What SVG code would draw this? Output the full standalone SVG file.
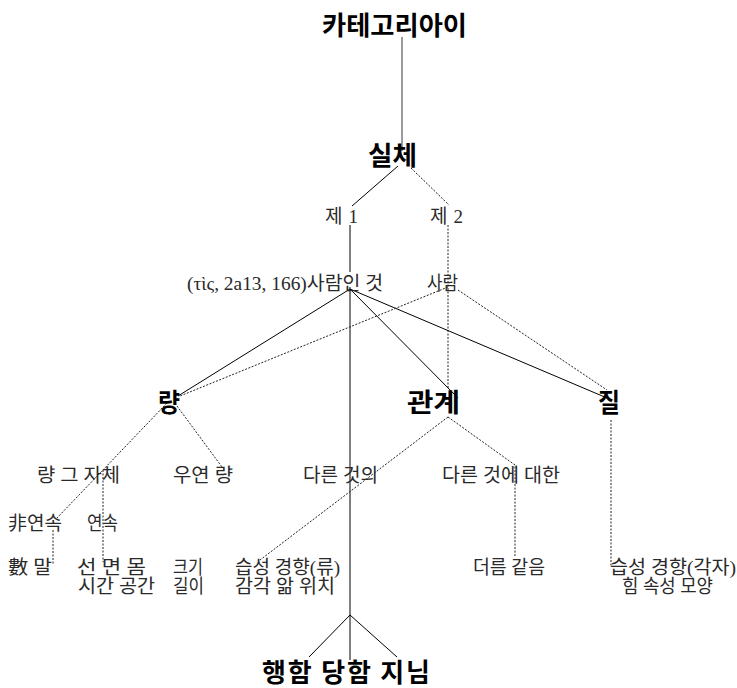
<svg xmlns="http://www.w3.org/2000/svg" width="737" height="688" viewBox="0 0 737 688">
<style>
.big{font-family:"Noto Sans CJK KR","Noto Sans",sans-serif;font-weight:bold;font-size:26px;fill:#000}
.sm{font-family:"Liberation Serif","Noto Sans CJK KR",serif;font-size:19px;fill:#2a2a2a}
.s{stroke:#000;stroke-width:1;fill:none}
.d{stroke:#222;stroke-width:1;fill:none;stroke-dasharray:2 1.5}
</style>
<rect width="737" height="688" fill="#fff"/>
<g id="connectors">
<line x1="402" y1="37" x2="402" y2="151" stroke="#7a7a7a" stroke-width="1.5"/>
<line class="s" x1="398" y1="166" x2="352" y2="206"/>
<line class="d" x1="411" y1="168" x2="449" y2="205"/>
<line class="s" x1="350" y1="225" x2="350" y2="272"/>
<line class="d" x1="448" y1="225" x2="448" y2="388"/>
<line class="s" x1="350" y1="287" x2="350" y2="660"/>
<line class="s" x1="350" y1="289" x2="178" y2="396"/>
<line class="s" x1="350" y1="289" x2="458" y2="398"/>
<line class="s" x1="350" y1="289" x2="607" y2="398"/>
<line class="d" x1="448" y1="287" x2="180" y2="396"/>
<line class="d" x1="458" y1="290" x2="607" y2="390"/>
<line class="d" x1="167" y1="403" x2="57" y2="518"/>
<line class="d" x1="177" y1="406" x2="222" y2="467"/>
<line class="d" x1="103" y1="470" x2="103" y2="562"/>
<line class="d" x1="53" y1="530" x2="53" y2="565"/>
<line class="d" x1="448" y1="417" x2="260" y2="560"/>
<polyline class="d" points="448,417 515,465 515,556"/>
<line class="d" x1="611" y1="420" x2="611" y2="566"/>
<line class="s" x1="350" y1="615" x2="309" y2="657"/>
<line class="s" x1="350" y1="615" x2="397" y2="657"/>
</g>
<g id="n-kategoriai"><text class="big" x="322" y="35" textLength="145" lengthAdjust="spacingAndGlyphs">카테고리아이</text></g>
<g id="n-silche"><text class="big" x="368" y="165" textLength="49" lengthAdjust="spacingAndGlyphs">실체</text></g>
<g id="n-je1"><text class="sm" x="325" y="223" textLength="33">제 1</text></g>
<g id="n-je2"><text class="sm" x="430" y="223" textLength="33">제 2</text></g>
<g id="n-tis"><text class="sm" x="187" y="290" textLength="196" lengthAdjust="spacingAndGlyphs">(τὶς, 2a13, 166)사람인 것</text></g>
<g id="n-saram"><text class="sm" x="427" y="290" textLength="31" lengthAdjust="spacingAndGlyphs">사람</text></g>
<g id="n-ryang"><text class="big" x="158" y="412" textLength="22" lengthAdjust="spacingAndGlyphs">량</text></g>
<g id="n-gwangye"><text class="big" x="407" y="412" textLength="53" lengthAdjust="spacingAndGlyphs">관계</text></g>
<g id="n-jil"><text class="big" x="598" y="412" textLength="22" lengthAdjust="spacingAndGlyphs">질</text></g>
<g id="n-ryang-self"><text class="sm" x="37" y="482" textLength="83" lengthAdjust="spacingAndGlyphs">량 그 자체</text></g>
<g id="n-uyeon"><text class="sm" x="173" y="482" textLength="60" lengthAdjust="spacingAndGlyphs">우연 량</text></g>
<g id="n-dareun-ui"><text class="sm" x="303" y="482" textLength="75" lengthAdjust="spacingAndGlyphs">다른 것의</text></g>
<g id="n-dareun-e"><text class="sm" x="442" y="482" textLength="118" lengthAdjust="spacingAndGlyphs">다른 것에 대한</text></g>
<g id="n-biyeonsok"><text class="sm" x="8" y="530" textLength="54" lengthAdjust="spacingAndGlyphs">非연속</text></g>
<g id="n-yeonsok"><text class="sm" x="87" y="530" textLength="31" lengthAdjust="spacingAndGlyphs">연속</text></g>
<g id="n-su"><text class="sm" x="8" y="574" textLength="44" lengthAdjust="spacingAndGlyphs">數 말</text></g>
<g id="n-yeonsok-items">
<text class="sm" x="77" y="574" textLength="69" lengthAdjust="spacingAndGlyphs">선 면 몸</text>
<text class="sm" x="78" y="593" textLength="77" lengthAdjust="spacingAndGlyphs">시간 공간</text>
</g>
<g id="n-keugi">
<text class="sm" x="173" y="574" textLength="30" lengthAdjust="spacingAndGlyphs">크기</text>
<text class="sm" x="173" y="593" textLength="31" lengthAdjust="spacingAndGlyphs">길이</text>
</g>
<g id="n-seupseong-ryu">
<text class="sm" x="235" y="574" textLength="105" lengthAdjust="spacingAndGlyphs">습성 경향(류)</text>
<text class="sm" x="235" y="593" textLength="100" lengthAdjust="spacingAndGlyphs">감각 앎 위치</text>
</g>
<g id="n-deoreum"><text class="sm" x="473" y="574" textLength="72" lengthAdjust="spacingAndGlyphs">더름 같음</text></g>
<g id="n-seupseong-gakja">
<text class="sm" x="610" y="574" textLength="126" lengthAdjust="spacingAndGlyphs">습성 경향(각자)</text>
<text class="sm" x="622" y="593" textLength="91" lengthAdjust="spacingAndGlyphs">힘 속성 모양</text>
</g>
<g id="n-haengham"><text class="big" x="262" y="682" font-size="27" textLength="168">행함 당함 지님</text></g>
</svg>
